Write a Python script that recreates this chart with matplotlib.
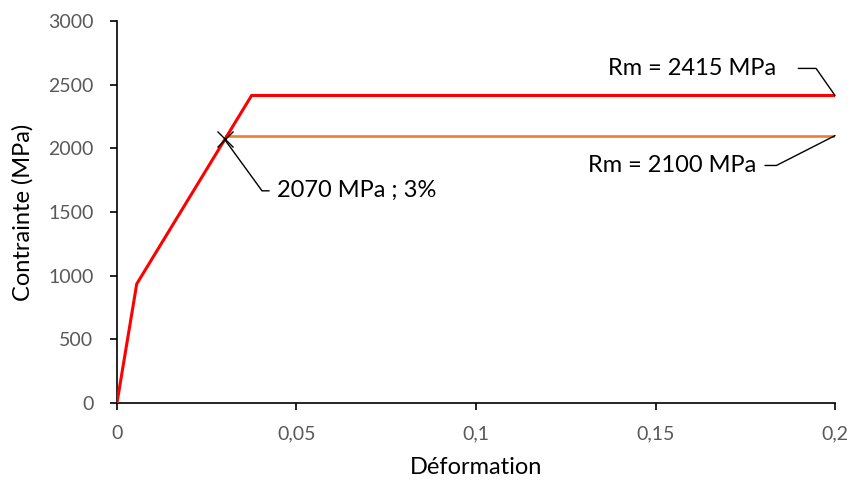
import matplotlib
matplotlib.use("Agg")
import matplotlib.pyplot as plt

# Data
red_strain = [0.0, 0.0055, 0.0375, 0.2]
red_stress = [0, 935, 2415, 2415]
orange_strain = [0.0305, 0.2]
orange_stress = [2100, 2100]
mark_strain = [0.03]
mark_stress = [2070]

x_ticks = [0, 0.05, 0.1, 0.15, 0.2]
x_labels = ["0", "0,05", "0,1", "0,15", "0,2"]
y_ticks = [0, 500, 1000, 1500, 2000, 2500, 3000]

plt.rcParams["font.family"] = ["Lato", "DejaVu Sans"]

fig = plt.figure(figsize=(8.5, 4.83), dpi=100)
ax = fig.add_axes([0.1376, 0.1656, 0.8448, 0.7909])

ax.plot(red_strain, red_stress, color="#FF0000", linewidth=2.2, solid_joinstyle="miter", zorder=3)
ax.plot(orange_strain, orange_stress, color="#ED7D31", linewidth=1.9, zorder=2)
ax.plot(mark_strain, mark_stress, linestyle="none", marker="x", color="black",
        markersize=11, markeredgewidth=1.0, zorder=4)

ax.set_xlim(0, 0.2)
ax.set_ylim(0, 3000)
ax.set_xticks(x_ticks)
ax.set_xticklabels(x_labels)
ax.set_yticks(y_ticks)
ax.tick_params(axis="both", labelsize=14, labelcolor="#595959", length=5, width=1.2,
               color="black", direction="out")
ax.tick_params(axis="x", pad=11)
ax.tick_params(axis="y", pad=12)
for side in ("top", "right"):
    ax.spines[side].set_visible(False)
for side in ("left", "bottom"):
    ax.spines[side].set_linewidth(1.2)

ax.set_xlabel("Déformation", fontsize=17, color="black")
ax.set_ylabel("Contrainte (MPa)", fontsize=17, color="black")
ax.xaxis.label.set_va("center")
ax.yaxis.label.set_va("center")
ax.xaxis.set_label_coords(0.5, -0.168)
ax.yaxis.set_label_coords(-0.131, 0.5)

line_kw = dict(arrowstyle="-", color="black", linewidth=1.0)

ax.annotate("Rm = 2415 MPa", xy=(red_strain[-1], red_stress[-1]),
            xytext=(-103, 19.5), textcoords="offset points",
            ha="center", va="center", fontsize=17, annotation_clip=False,
            arrowprops=dict(connectionstyle="angle,angleA=0,angleB=125,rad=0",
                            relpos=(1, 0.5), shrinkA=14, shrinkB=0, **line_kw))
ax.annotate("Rm = 2100 MPa", xy=(orange_strain[-1], orange_stress[-1]),
            xytext=(-117, -21.5), textcoords="offset points",
            ha="center", va="center", fontsize=17, annotation_clip=False,
            arrowprops=dict(connectionstyle="angle,angleA=0,angleB=207,rad=0",
                            relpos=(1, 0.5), shrinkA=4, shrinkB=0, **line_kw))
ax.annotate("2070 MPa ; 3%", xy=(mark_strain[0], mark_stress[0]),
            xytext=(38, -37), textcoords="offset points",
            ha="left", va="center", fontsize=17,
            arrowprops=dict(connectionstyle="angle,angleA=180,angleB=-54,rad=0",
                            relpos=(0, 0.5), shrinkA=4, shrinkB=0, **line_kw))

fig.savefig("out.png", dpi=100)
plt.close(fig)
